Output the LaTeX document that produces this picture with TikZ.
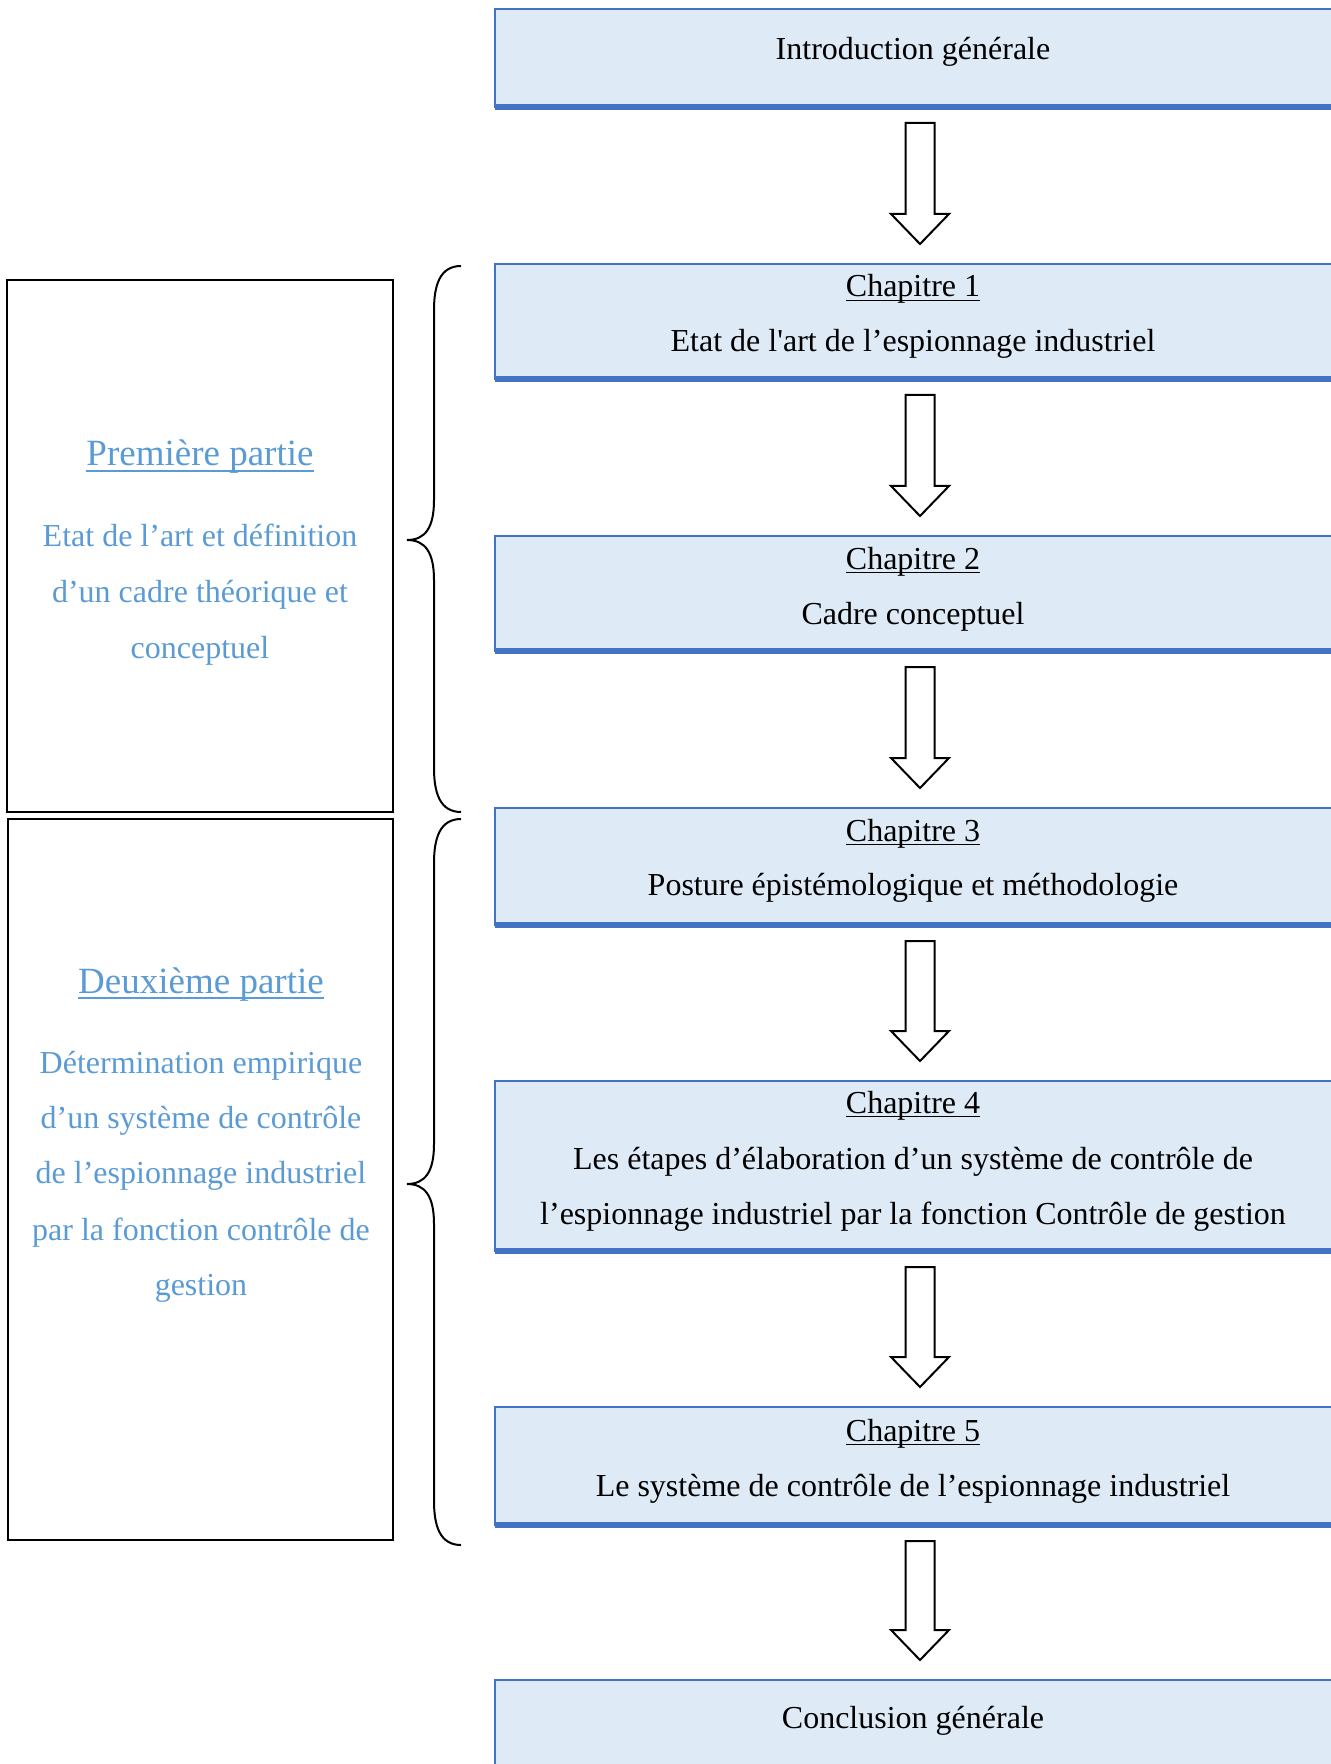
\documentclass[tikz,border=0pt]{standalone}
\usepackage{fontspec}
\setmainfont{Liberation Serif}
\usetikzlibrary{calc}
\definecolor{boxfill}{HTML}{DEEAF6}
\definecolor{boxline}{HTML}{4472C4}
\definecolor{partblue}{HTML}{5B9BD5}

% underline drawn at a fixed depth below the baseline
\newcommand\ulat[3]{\setbox0=\hbox{#3}\rlap{\rule[-#1]{\wd0}{#2}}\box0}

% hollow block arrow from the bottom of one box to the top of the next
\newcommand\flowarrow[2]{%
  \draw[blockarrow] let \p1=(#1.south), \p2=(#2.north) in
    (\x1-7.25pt,\y1-8pt) -- (\x1+7.25pt,\y1-8pt) -- (\x1+7.25pt,\y2+25pt)
    -- (\x1+14.5pt,\y2+25pt) -- (\x1,\y2+10pt) -- (\x1-14.5pt,\y2+25pt)
    -- (\x1-7.25pt,\y2+25pt) -- cycle;}

% curly brace: top end, tip height, bottom end (pixel units)
\newcommand\partbrace[3]{%
  \draw[brace] (461,#1) .. controls (440,#1) and (434,#1+19) .. (434,#1+44)
    -- (434,#2-40) .. controls (434,#2-12) and (425,#2) .. (407,#2)
    .. controls (425,#2) and (434,#2+12) .. (434,#2+40)
    -- (434,#3-44) .. controls (434,#3-19) and (440,#3) .. (461,#3);}

\begin{document}
\begin{tikzpicture}[x=0.5pt,y=-0.5pt,
  chbox/.style={draw=boxline, line width=1.25pt, fill=boxfill, anchor=north west,
    minimum width=425pt, inner sep=0pt, outer sep=0pt},
  bottomrule/.style={draw=boxline, line width=2.8pt},
  chtxt/.style={font=\fontsize{16}{20}\selectfont, anchor=base, inner sep=0pt},
  parttitle/.style={font=\fontsize{18.5}{22}\selectfont, text=partblue, anchor=base, inner sep=0pt},
  parttxt/.style={font=\fontsize{16}{20}\selectfont, text=partblue, anchor=base, inner sep=0pt},
  partbox/.style={draw=black, line width=1pt, anchor=north west, inner sep=0pt, outer sep=0pt},
  blockarrow/.style={draw=black, line width=1pt, fill=white, line join=miter},
  brace/.style={draw=black, line width=1pt}
]
\clip (0,0) rectangle (1331,1764);

% chapter column
\node[chbox, minimum height=49pt]   (intro) at (495,9)    {};
\node[chbox, minimum height=57.5pt] (ch1)   at (495,264)  {};
\node[chbox, minimum height=57.5pt] (ch2)   at (495,536)  {};
\node[chbox, minimum height=58.5pt] (ch3)   at (495,808)  {};
\node[chbox, minimum height=85pt]   (ch4)   at (495,1081) {};
\node[chbox, minimum height=59pt]   (ch5)   at (495,1407) {};
\node[chbox, minimum height=60pt]   (concl) at (495,1680) {};
\foreach \b in {intro,ch1,ch2,ch3,ch4,ch5,concl}
  \draw[bottomrule] (\b.south west) -- (\b.south east);

\node[chtxt] (introt) at (913,60)   {Introduction générale};
\node[chtxt] (ch1a)   at (913,297)  {\ulat{2.2pt}{0.7pt}{Chapitre 1}};
\node[chtxt] (ch1b)   at (913,352)  {Etat de l\textquotesingle art de l’espionnage industriel};
\node[chtxt] (ch2a)   at (913,569)  {\ulat{2.2pt}{0.7pt}{Chapitre 2}};
\node[chtxt] (ch2b)   at (913,624)  {Cadre conceptuel};
\node[chtxt] (ch3a)   at (913,841)  {\ulat{2.2pt}{0.7pt}{Chapitre 3}};
\node[chtxt] (ch3b)   at (913,895)  {Posture épistémologique et méthodologie};
\node[chtxt] (ch4a)   at (913,1113) {\ulat{2.2pt}{0.7pt}{Chapitre 4}};
\node[chtxt] (ch4b)   at (913,1169) {Les étapes d’élaboration d’un système de contrôle de};
\node[chtxt] (ch4c)   at (913,1224) {l’espionnage industriel par la fonction Contrôle de gestion};
\node[chtxt] (ch5a)   at (913,1441) {\ulat{2.2pt}{0.7pt}{Chapitre 5}};
\node[chtxt] (ch5b)   at (913,1496) {Le système de contrôle de l’espionnage industriel};
\node[chtxt] (conclt) at (913,1728) {Conclusion générale};

\flowarrow{intro}{ch1}
\flowarrow{ch1}{ch2}
\flowarrow{ch2}{ch3}
\flowarrow{ch3}{ch4}
\flowarrow{ch4}{ch5}
\flowarrow{ch5}{concl}

% parts column
\node[partbox, minimum width=193pt, minimum height=266pt]   (part1) at (7,280) {};
\node[partbox, minimum width=192.5pt, minimum height=360.5pt] (part2) at (8,819) {};

\node[parttitle] (p1t) at (200,466) {\ulat{3pt}{0.8pt}{Première partie}};
\node[parttxt] (p1a) at (200,546) {Etat de l’art et définition};
\node[parttxt] (p1b) at (200,602) {d’un cadre théorique et};
\node[parttxt] (p1c) at (200,658) {conceptuel};

\node[parttitle] (p2t) at (201,993) {\ulat{3pt}{0.8pt}{Deuxième partie}};
\node[parttxt] (p2a) at (201,1073) {Détermination empirique};
\node[parttxt] (p2b) at (201,1128) {d’un système de contrôle};
\node[parttxt] (p2c) at (201,1183) {de l’espionnage industriel};
\node[parttxt] (p2d) at (201,1240) {par la fonction contrôle de};
\node[parttxt] (p2e) at (201,1295) {gestion};

\partbrace{266}{540}{812}
\partbrace{819}{1184}{1545}
\end{tikzpicture}
\end{document}
